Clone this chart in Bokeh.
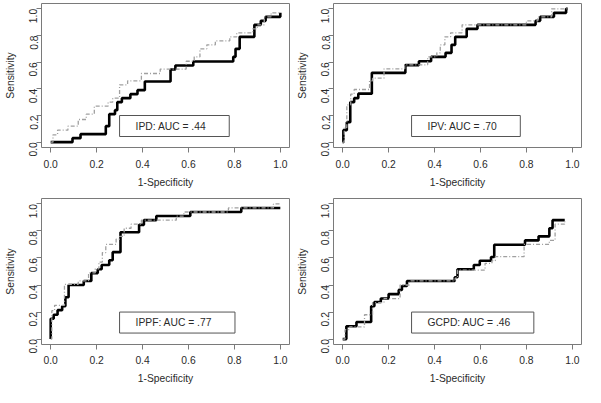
import math
from bokeh.plotting import figure
from bokeh.layouts import column, row
from bokeh.models import Range1d, FixedTicker, Label
from bokeh.embed import file_html
from bokeh.resources import INLINE

# ---------------- data ----------------
ticks = [0.0, 0.2, 0.4, 0.6, 0.8, 1.0]
tick_labels = ["0.0", "0.2", "0.4", "0.6", "0.8", "1.0"]
x_title = "1-Specificity"
y_title = "Sensitivity"
panel_labels = ["IPD: AUC = .44", "IPV: AUC = .70", "IPPF: AUC = .77", "GCPD: AUC = .46"]

# IPD
ipd_fpr_solid = [0, 0.095, 0.13, 0.24, 0.255, 0.28, 0.29, 0.31, 0.347, 0.378, 0.41, 0.522, 0.543, 0.621, 0.795, 0.805, 0.823, 0.887, 0.915, 0.936, 1.0]
ipd_tpr_solid = [0, 0.03, 0.06, 0.12, 0.21, 0.24, 0.30, 0.33, 0.36, 0.39, 0.455, 0.545, 0.575, 0.605, 0.64, 0.70, 0.79, 0.88, 0.91, 0.94, 0.97]
ipd_fpr_dash = [0, 0.01, 0.03, 0.075, 0.12, 0.155, 0.19, 0.25, 0.27, 0.3, 0.335, 0.395, 0.477, 0.59, 0.625, 0.65, 0.68, 0.717, 0.78, 0.81, 0.88, 0.9, 0.93, 0.96, 1.0]
ipd_tpr_dash = [0, 0.055, 0.09, 0.12, 0.17, 0.21, 0.27, 0.30, 0.33, 0.43, 0.46, 0.515, 0.548, 0.607, 0.64, 0.70, 0.73, 0.76, 0.79, 0.82, 0.85, 0.88, 0.94, 0.97, 0.97]

# IPV
ipv_fpr_solid = [0, 0.003, 0.018, 0.033, 0.05, 0.068, 0.127, 0.273, 0.332, 0.385, 0.448, 0.474, 0.49, 0.54, 0.587, 0.84, 0.86, 0.92, 0.973, 0.98]
ipv_tpr_solid = [0, 0.09, 0.15, 0.30, 0.33, 0.364, 0.52, 0.578, 0.607, 0.64, 0.67, 0.73, 0.79, 0.85, 0.88, 0.91, 0.94, 0.97, 1.0, 1.0]
ipv_fpr_dash = [0, 0.007, 0.018, 0.035, 0.05, 0.117, 0.13, 0.18, 0.27, 0.37, 0.41, 0.425, 0.445, 0.47, 0.52, 0.8, 0.85, 0.91, 0.98]
ipv_tpr_dash = [0, 0.11, 0.28, 0.36, 0.395, 0.46, 0.48, 0.55, 0.58, 0.64, 0.67, 0.73, 0.79, 0.82, 0.88, 0.91, 0.94, 1.0, 1.0]

# IPPF
ippf_fpr_solid = [0, 0, 0.013, 0.03, 0.05, 0.064, 0.078, 0.144, 0.177, 0.205, 0.222, 0.255, 0.27, 0.304, 0.385, 0.406, 0.46, 0.608, 0.83, 1.0]
ippf_tpr_solid = [0, 0.15, 0.18, 0.214, 0.243, 0.31, 0.40, 0.43, 0.488, 0.517, 0.548, 0.583, 0.643, 0.79, 0.845, 0.88, 0.91, 0.94, 0.97, 0.97]
ippf_fpr_dash = [0, 0.005, 0.017, 0.06, 0.12, 0.165, 0.194, 0.21, 0.225, 0.24, 0.285, 0.3, 0.32, 0.35, 0.395, 0.547, 0.58, 0.774, 0.97, 1.0]
ippf_tpr_dash = [0, 0.21, 0.25, 0.405, 0.43, 0.49, 0.52, 0.57, 0.64, 0.70, 0.74, 0.76, 0.82, 0.85, 0.88, 0.91, 0.94, 0.97, 1.0, 1.0]

# GCPD
gcpd_fpr_solid = [0, 0.016, 0.06, 0.124, 0.138, 0.166, 0.2, 0.244, 0.258, 0.28, 0.488, 0.5, 0.571, 0.597, 0.646, 0.66, 0.794, 0.853, 0.9, 0.914, 0.967]
gcpd_tpr_solid = [0, 0.095, 0.126, 0.243, 0.274, 0.30, 0.333, 0.364, 0.393, 0.43, 0.457, 0.517, 0.548, 0.579, 0.607, 0.698, 0.73, 0.76, 0.82, 0.88, 0.88]
gcpd_fpr_dash = [0, 0.01, 0.03, 0.095, 0.13, 0.18, 0.25, 0.29, 0.49, 0.5, 0.62, 0.65, 0.665, 0.79, 0.9, 0.925, 0.967]
gcpd_tpr_dash = [0, 0.07, 0.09, 0.18, 0.27, 0.30, 0.40, 0.43, 0.45, 0.51, 0.56, 0.58, 0.61, 0.70, 0.73, 0.85, 0.88]

FONT = "Liberation Sans"
TEXT = "#2a2a2a"
FRAME = "#7a7a7a"


def panel(fs, ts, fd, td, label, w, h, top, bottom, right, xstand):
    p = figure(width=w, height=h, x_range=Range1d(-0.04, 1.04), y_range=Range1d(-0.04, 1.04),
               output_backend="svg", toolbar_location=None,
               min_border_left=41, min_border_right=right, min_border_top=top, min_border_bottom=bottom)
    p.outline_line_color = FRAME
    p.outline_line_width = 1
    p.xgrid.visible = False
    p.ygrid.visible = False
    for ax in (p.xaxis[0], p.yaxis[0]):
        ax.ticker = FixedTicker(ticks=ticks)
        ax.major_label_overrides = dict(zip(ticks, tick_labels))
        ax.axis_line_color = None
        ax.major_tick_in = 0
        ax.major_tick_out = 5
        ax.minor_tick_line_color = None
        ax.major_tick_line_color = FRAME
        ax.major_label_text_font = FONT
        ax.major_label_text_font_size = "10.3px"
        ax.major_label_text_color = TEXT
        ax.axis_label_text_font = FONT
        ax.axis_label_text_font_style = "normal"
        ax.axis_label_text_font_size = "10.3px"
        ax.axis_label_text_color = TEXT
    p.xaxis.axis_label = x_title
    p.yaxis.axis_label = y_title
    p.yaxis.major_label_orientation = math.pi / 2
    p.xaxis.major_label_standoff = xstand
    p.xaxis.axis_label_standoff = 6
    p.yaxis.major_label_standoff = 3
    p.yaxis.axis_label_standoff = 7

    p.step(fs, ts, mode="after", line_color="black", line_width=2.6)
    p.step(fd, td, mode="after", line_color="#a0a0a0", line_width=1.3, line_dash="4 2 1 2")

    lab = Label(x=0.3, y=0.2, text=label, anchor="top_left",
                padding=dict(left=16, right=23, top=5, bottom=5),
                border_line_color="#555555", border_line_width=1,
                background_fill_color="white",
                text_font=FONT, text_font_size="10.3px", text_color=TEXT)
    p.add_layout(lab)
    return p


p1 = panel(ipd_fpr_solid, ipd_tpr_solid, ipd_fpr_dash, ipd_tpr_dash, panel_labels[0], 292, 193, 3, 46, 3, 7)
p2 = panel(ipv_fpr_solid, ipv_tpr_solid, ipv_fpr_dash, ipv_tpr_dash, panel_labels[1], 293, 193, 3, 46, 4, 7)
p3 = panel(ippf_fpr_solid, ippf_tpr_solid, ippf_fpr_dash, ippf_tpr_dash, panel_labels[2], 292, 194, 5, 43, 3, 6)
p4 = panel(gcpd_fpr_solid, gcpd_tpr_solid, gcpd_fpr_dash, gcpd_tpr_dash, panel_labels[3], 293, 194, 5, 43, 4, 6)

layout = column(row(p1, p2), row(p3, p4))
open("out.html", "w").write(file_html(layout, INLINE))
